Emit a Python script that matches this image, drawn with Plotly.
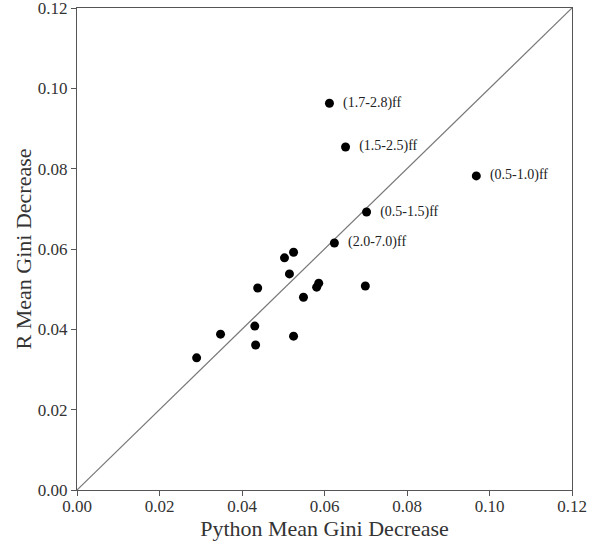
import plotly.graph_objects as go

python_gini = [0.0612, 0.0651, 0.0968, 0.0702, 0.0624,
               0.0525, 0.0503, 0.0515, 0.0438, 0.0586, 0.0581, 0.0699,
               0.0549, 0.0431, 0.0348, 0.0525, 0.0433, 0.0290]
r_gini = [0.0963, 0.0854, 0.0782, 0.0692, 0.0615,
          0.0592, 0.0578, 0.0538, 0.0503, 0.0515, 0.0505, 0.0508,
          0.0480, 0.0408, 0.0388, 0.0383, 0.0361, 0.0329]
labels = ["(1.7-2.8)ff", "(1.5-2.5)ff", "(0.5-1.0)ff", "(0.5-1.5)ff", "(2.0-7.0)ff",
          "", "", "", "", "", "", "", "", "", "", "", "", ""]
diag = [0.0, 0.12]
tick_vals = [0.0, 0.02, 0.04, 0.06, 0.08, 0.10, 0.12]
tick_text = ["0.00", "0.02", "0.04", "0.06", "0.08", "0.10", "0.12"]

font_family = "Liberation Serif, DejaVu Serif, serif"

fig = go.Figure()
fig.add_trace(go.Scatter(x=diag, y=diag, mode="lines",
                         line=dict(color="#777777", width=1.2),
                         hoverinfo="skip", showlegend=False))
fig.add_trace(go.Scatter(x=python_gini, y=r_gini, mode="markers+text",
                         text=[("  " + t) if t else "" for t in labels],
                         textposition="middle right",
                         textfont=dict(family=font_family, size=14, color="#222222"),
                         marker=dict(color="black", size=9),
                         showlegend=False, cliponaxis=False))

axis_common = dict(range=[-1e-6, 0.120001], tickvals=tick_vals, ticktext=tick_text,
                   showgrid=False, zeroline=False, showline=True, mirror=True,
                   linecolor="#555555", linewidth=1, ticks="outside", ticklen=5,
                   tickcolor="#555555", automargin=False, ticklabeloverflow="allow",
                   tickfont=dict(family=font_family, size=17, color="#333333"))

fig.update_layout(
    width=605, height=545,
    margin=dict(l=77, r=33, t=8, b=55),
    plot_bgcolor="white", paper_bgcolor="white",
    font=dict(family=font_family, color="#333333"),
    xaxis=dict(**axis_common, ticklabelstandoff=-4,
               title=dict(text="Python Mean Gini Decrease",
                          font=dict(family=font_family, size=22), standoff=0)),
    yaxis=dict(**axis_common, ticklabelstandoff=0,
               title=dict(text="R Mean Gini Decrease",
                          font=dict(family=font_family, size=22), standoff=0)),
)

fig.write_html("out.html", config={"displayModeBar": False},
               post_script="document.body.style.margin='0';document.body.style.overflow='hidden';")
